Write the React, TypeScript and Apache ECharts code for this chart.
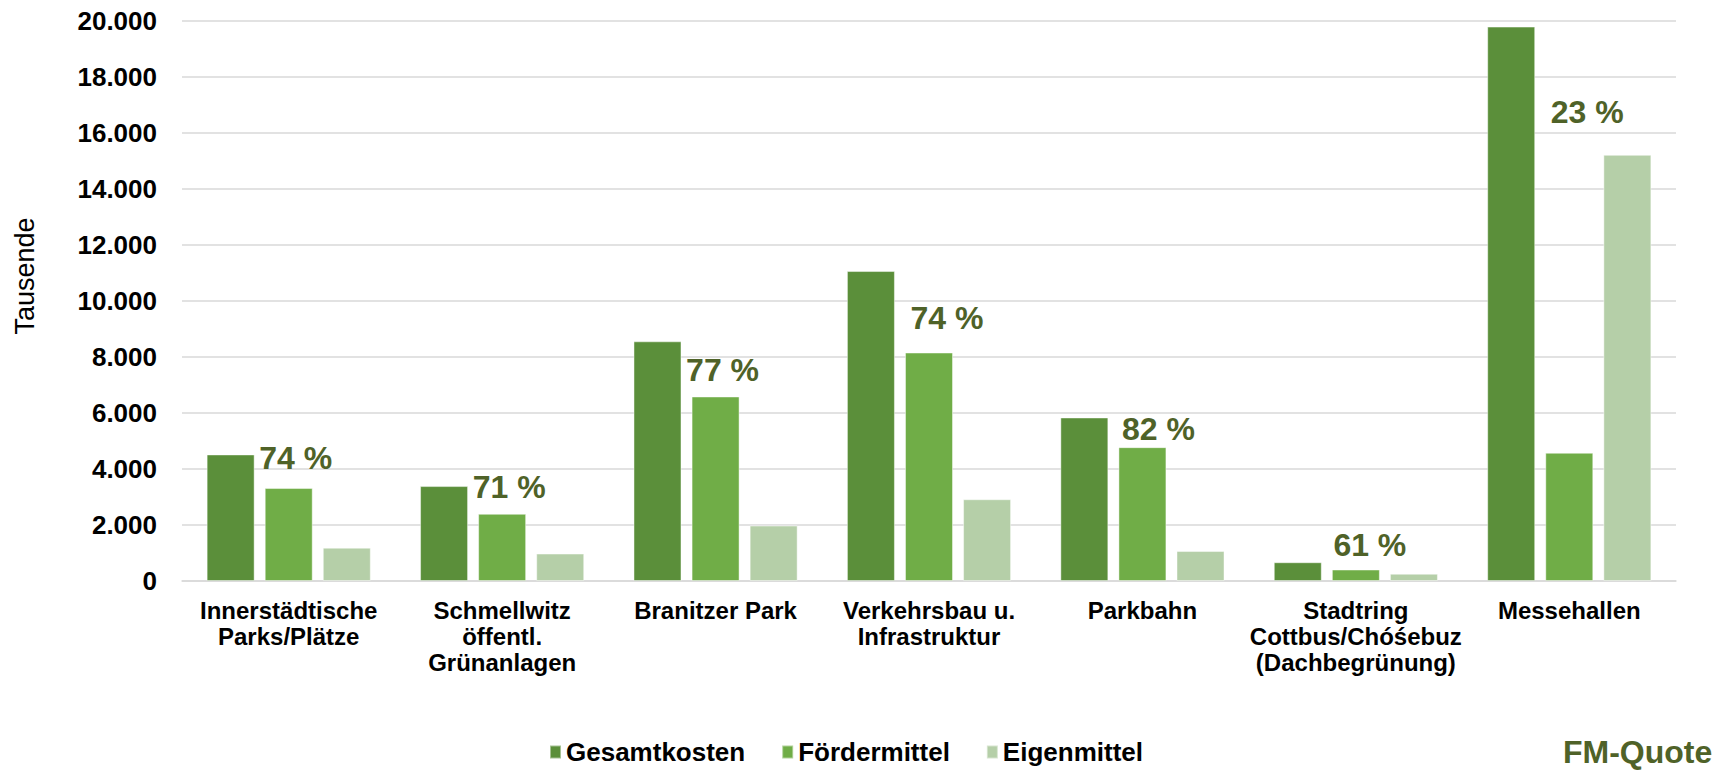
import React, { useEffect, useRef } from "react";
import * as echarts from "echarts";

const categories = [
  "Innerstädtische\nParks/Plätze",
  "Schmellwitz\nöffentl.\nGrünanlagen",
  "Branitzer Park",
  "Verkehrsbau u.\nInfrastruktur",
  "Parkbahn",
  "Stadtring\nCottbus/Chóśebuz\n(Dachbegrünung)",
  "Messehallen",
];
const gesamtkosten = [4520, 3390, 8560, 11070, 5840, 670, 19800];
const foerdermittel = [3320, 2400, 6590, 8160, 4780, 410, 4580];
const eigenmittel = [1190, 980, 1980, 2920, 1070, 260, 15220];
const quoteLabels = ["74 %", "71 %", "77 %", "74 %", "82 %", "61 %", "23 %"];
// value (in Tausende) at which each FM-Quote label sits
const quoteLabelLevel = [4390, 3360, 7520, 9380, 5440, 1300, 16760];
const quoteLabelShiftX = [7, 7, 7, 18, 16, 14, 18];

const FONT = "'Liberation Sans', Arial, sans-serif";
const C_GES = "#5B8F3A";
const C_FOE = "#70AD47";
const C_EIG = "#B5CFA8";
const C_QUOTE = "#4F6228";

function fmt(v: number) {
  return String(v).replace(/\B(?=(\d{3})+(?!\d))/g, ".");
}

export default function App() {
  const ref = useRef<HTMLDivElement>(null);
  useEffect(() => {
    document.body.style.margin = "0";
    const chart = echarts.init(ref.current!, null, { renderer: "svg" });
    const barBorder = { borderColor: "rgba(255,255,255,0.45)", borderWidth: 1 };
    chart.setOption({
      animation: false,
      backgroundColor: "#ffffff",
      textStyle: { fontFamily: FONT },
      grid: { left: 182, right: 51, top: 21, bottom: 190, containLabel: false },
      legend: {
        data: ["Gesamtkosten", "Fördermittel", "Eigenmittel"],
        left: 544,
        top: 734,
        itemWidth: 11,
        itemHeight: 13,
        itemGap: 36,
        icon: "rect",
        textStyle: { fontSize: 26, fontWeight: "bold", color: "#000", fontFamily: FONT },
      },
      xAxis: {
        type: "category",
        data: categories,
        axisLine: { show: true, lineStyle: { color: "#D9D9D9", width: 1.5 } },
        axisTick: { show: false },
        axisLabel: {
          interval: 0,
          fontSize: 24,
          fontWeight: "bold",
          color: "#000",
          lineHeight: 26,
          margin: 16,
          fontFamily: FONT,
        },
      },
      yAxis: {
        type: "value",
        min: 0,
        max: 20000,
        interval: 2000,
        axisLine: { show: false },
        axisTick: { show: false },
        splitLine: { lineStyle: { color: "#D9D9D9", width: 1.5 } },
        axisLabel: {
          fontSize: 26,
          fontWeight: "bold",
          color: "#000",
          margin: 25,
          fontFamily: FONT,
          formatter: (v: number) => fmt(v),
        },
      },
      series: [
        {
          name: "Gesamtkosten",
          type: "bar",
          data: gesamtkosten,
          barWidth: 48,
          barGap: "21%",
          itemStyle: { color: C_GES, ...barBorder },
        },
        {
          name: "Fördermittel",
          type: "bar",
          data: foerdermittel,
          barWidth: 48,
          barGap: "21%",
          itemStyle: { color: C_FOE, ...barBorder },
        },
        {
          name: "Eigenmittel",
          type: "bar",
          data: eigenmittel,
          barWidth: 48,
          barGap: "21%",
          itemStyle: { color: C_EIG, ...barBorder },
        },
        {
          name: "FM-Quote",
          type: "scatter",
          symbolSize: 1,
          itemStyle: { color: "rgba(0,0,0,0)", opacity: 1 },
          silent: true,
          z: 5,
          data: quoteLabelLevel.map((v, i) => ({
            value: [i, v],
            label: {
              show: true,
              position: "inside",
              offset: [quoteLabelShiftX[i], 0],
              formatter: quoteLabels[i],
              fontSize: 32,
              fontWeight: "bold",
              color: C_QUOTE,
              opacity: 1,
              fontFamily: FONT,
            },
          })),
        },
      ],
      graphic: [
        {
          type: "text",
          x: 25,
          y: 276,
          rotation: Math.PI / 2,
          style: {
            text: "Tausende",
            fontSize: 27,
            fontFamily: FONT,
            fill: "#000",
            align: "center",
            verticalAlign: "middle",
          },
        },
        {
          type: "text",
          x: 1563,
          y: 752,
          style: {
            text: "FM-Quote",
            fontSize: 32,
            fontWeight: "bold",
            fontFamily: FONT,
            fill: C_QUOTE,
            align: "left",
            verticalAlign: "middle",
          },
        },
      ],
    });
    return () => chart.dispose();
  }, []);
  return <div ref={ref} style={{ width: 1727, height: 771 }} />;
}
